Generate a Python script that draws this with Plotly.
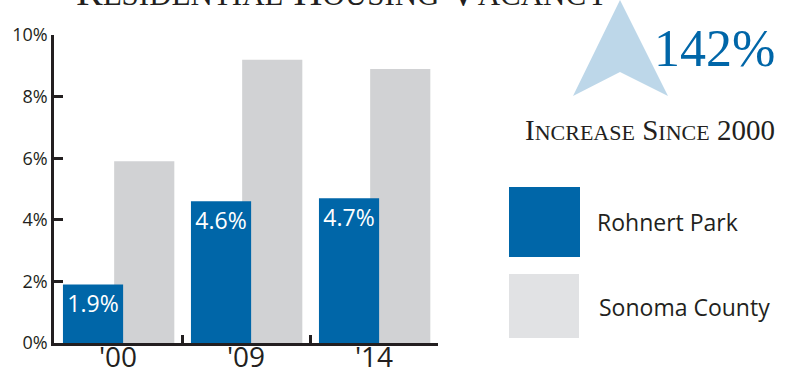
import plotly.graph_objects as go

years = ["'00", "'09", "'14"]
rohnert_park = [1.9, 4.6, 4.7]
sonoma_county = [5.9, 9.2, 8.9]
rp_labels = ["1.9%", "4.6%", "4.7%"]
y_ticks = [0, 2, 4, 6, 8, 10]
y_tick_text = ["0%", "2%", "4%", "6%", "8%", "10%"]

BLUE = "#0066a8"
GRAY = "#d1d2d4"
LGRAY = "#e1e2e4"
ARROW = "#bdd7e9"
DARK = "#231f20"
SANS = "Open Sans"
SERIF = "Liberation Serif"

W, H = 785, 371
L, R, T, B = 54, 347, 35, 28
PW, PH = W - L - R, H - T - B


def px(X):
    return (X - L) / PW


def py(Y):
    return (H - B - Y) / PH


fig = go.Figure()
fig.add_trace(go.Bar(x=years, y=sonoma_county, marker_color=GRAY, marker_line_width=0,
                     offset=-0.03, width=0.47, name="Sonoma County", hoverinfo="skip"))
fig.add_trace(go.Bar(x=years, y=rohnert_park, marker_color=BLUE, marker_line_width=0,
                     offset=-0.43, width=0.47, name="Rohnert Park",
                     text=rp_labels, textposition="inside", insidetextanchor="end",
                     textfont=dict(color="white", size=23, family=SANS), hoverinfo="skip"))

fig.update_layout(
    width=W, height=H, barmode="overlay", showlegend=False,
    margin=dict(l=L, r=R, t=T, b=B, autoexpand=False),
    paper_bgcolor="white", plot_bgcolor="white",
    uniformtext=dict(mode=False),
    xaxis=dict(type="category", tickson="boundaries", ticks="inside", ticklen=8, tickwidth=2.5,
               tickcolor=DARK, showline=True, linecolor=DARK, linewidth=2.5, showgrid=False,
               automargin=False, ticklabelstandoff=-12,
               tickfont=dict(family=SANS, size=28, color=DARK), range=[-0.5, 2.5]),
    yaxis=dict(range=[0, 10], tickvals=y_ticks, ticktext=y_tick_text, ticks="inside", ticklen=9,
               tickwidth=2.5, tickcolor=DARK, showline=True, linecolor=DARK, linewidth=2.5,
               showgrid=False, zeroline=False, automargin=False,
               tickfont=dict(family=SANS, size=18, color=DARK)),
)

# Clipped title at top
fig.add_annotation(xref="paper", yref="paper", x=px(342), y=py(16), xanchor="center", yanchor="bottom",
                   showarrow=False,
                   text="R<span style='font-size:31px'>ESIDENTIAL</span> H<span style='font-size:31px'>OUSING</span> V<span style='font-size:31px'>ACANCY</span>",
                   font=dict(family=SERIF, size=40, color=DARK))

# Arrow
ax = [px(620), px(573), px(620), px(668)]
ay = [py(0), py(96), py(72), py(96)]
path = f"M {ax[0]} {ay[0]} L {ax[1]} {ay[1]} L {ax[2]} {ay[2]} L {ax[3]} {ay[3]} Z"
fig.add_shape(type="path", xref="paper", yref="paper", path=path, fillcolor=ARROW, line_width=0)

fig.add_annotation(xref="paper", yref="paper", x=px(714), y=py(48), xanchor="center", yanchor="middle",
                   showarrow=False, text="142%", font=dict(family=SERIF, size=52, color=BLUE))
fig.add_annotation(xref="paper", yref="paper", x=px(650), y=py(130), xanchor="center", yanchor="middle",
                   showarrow=False,
                   text="I<span style='font-size:22px'>NCREASE</span> S<span style='font-size:22px'>INCE</span> 2000",
                   font=dict(family=SERIF, size=29, color=DARK))

# Legend
fig.add_shape(type="rect", xref="paper", yref="paper", x0=px(509), x1=px(580), y0=py(257), y1=py(187),
              fillcolor=BLUE, line_width=0)
fig.add_shape(type="rect", xref="paper", yref="paper", x0=px(509), x1=px(579), y0=py(338), y1=py(274),
              fillcolor=LGRAY, line_width=0)
fig.add_annotation(xref="paper", yref="paper", x=px(595), y=py(222), xanchor="left", yanchor="middle",
                   showarrow=False, text="Rohnert Park", font=dict(family=SANS, size=23, color=DARK))
fig.add_annotation(xref="paper", yref="paper", x=px(597), y=py(307), xanchor="left", yanchor="middle",
                   showarrow=False, text="Sonoma County", font=dict(family=SANS, size=23, color=DARK))

fig.write_html("out.html")
